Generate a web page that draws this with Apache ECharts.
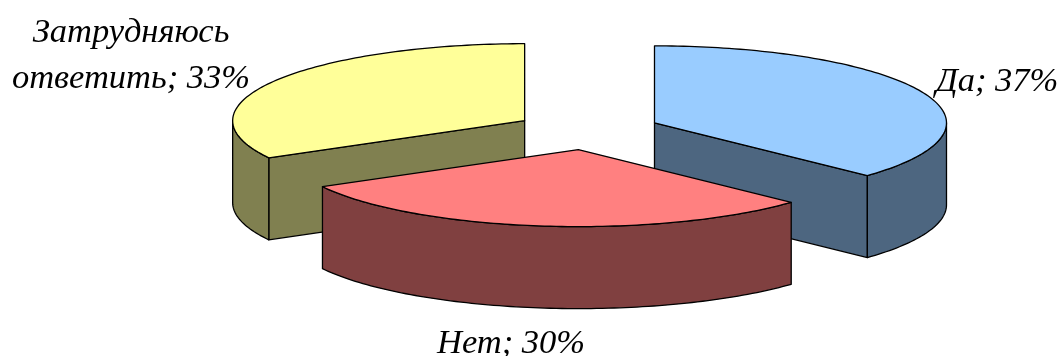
<!DOCTYPE html>
<html>
<head>
<meta charset="utf-8">
<style>
  html, body { margin: 0; padding: 0; background: #fff; }
  #chart { width: 1064px; height: 356px; }
</style>
<script src="https://cdn.jsdelivr.net/npm/echarts@6/dist/echarts.min.js"></script>
</head>
<body>
<div id="chart"></div>
<script>
// Survey answers, listed clockwise from twelve o'clock
const answers = ['Да', 'Нет', 'Затрудняюсь\nответить'];
const shares = [37, 30, 33];
const topColors = ['#99CCFF', '#FF8080', '#FFFF99'];
const wallColors = ['#4D6680', '#804040', '#808050'];

// Where each label sits, in page pixels
const labelX = [997, 511, 131];
const labelY = [82, 344, 56];

// Shape of the tilted, exploded pie
const pie = { cx: 587.5, cy: 130.5, rx: 292, ry: 77, depth: 82, explode: 0.25 };
const paintOrder = [2, 0, 1];
const total = shares.reduce((a, b) => a + b, 0);

// Angle is measured clockwise from twelve o'clock, in radians
const sliceAngles = [];
shares.reduce((start, v) => {
  const end = start + v / total * Math.PI * 2;
  sliceAngles.push([start, end]);
  return end;
}, 0);

function project(apex, angle, drop) {
  return [apex[0] + Math.sin(angle) * pie.rx,
          apex[1] - Math.cos(angle) * pie.ry + drop];
}

function arcPoints(apex, from, to, drop) {
  const pts = [];
  const steps = Math.max(2, Math.ceil(Math.abs(to - from) / 0.02));
  for (let i = 0; i <= steps; i++) {
    pts.push(project(apex, from + (to - from) * i / steps, drop));
  }
  return pts;
}

function face(points, fill) {
  return {
    type: 'polygon',
    shape: { points },
    style: { fill, stroke: '#000', lineWidth: 1.3, lineJoin: 'round' }
  };
}

function renderSlice(params, api) {
  const i = api.value(0);
  const [a0, a1] = sliceAngles[i];
  const mid = (a0 + a1) / 2;
  const apex = [pie.cx + Math.sin(mid) * pie.rx * pie.explode,
                pie.cy - Math.cos(mid) * pie.ry * pie.explode];
  const below = [apex[0], apex[1] + pie.depth];
  const children = [];

  // Radial walls turned towards the viewer
  [a0, a1].forEach(a => {
    const faceOpen = a === a1 ? Math.sin(a) > 0 : Math.sin(a) < 0;
    if (faceOpen) {
      const rim = project(apex, a, 0);
      children.push(face([apex, rim, project(apex, a, pie.depth), below], wallColors[i]));
    }
  });

  // Outer wall: the part of the rim on the near half of the ellipse
  const nearFrom = Math.max(a0, Math.PI / 2);
  const nearTo = Math.min(a1, Math.PI * 1.5);
  if (nearFrom < nearTo) {
    const top = arcPoints(apex, nearFrom, nearTo, 0);
    const bottom = arcPoints(apex, nearTo, nearFrom, pie.depth);
    children.push(face(top.concat(bottom), wallColors[i]));
  }

  // Top surface
  children.push(face([apex].concat(arcPoints(apex, a0, a1, 0)), topColors[i]));

  // Label
  children.push({
    type: 'text',
    style: {
      text: answers[i] + '; ' + shares[i] + '%',
      x: labelX[i],
      y: labelY[i],
      align: 'center',
      verticalAlign: 'middle',
      fill: '#000',
      font: 'italic 34.5px "Liberation Serif", "Times New Roman", serif',
      lineHeight: 46
    },
    z2: 10
  });

  return { type: 'group', children };
}

const chart = echarts.init(document.getElementById('chart'), null, { renderer: 'canvas' });
chart.setOption({
  backgroundColor: '#fff',
  animation: false,
  series: [{
    type: 'custom',
    coordinateSystem: 'none',
    renderItem: renderSlice,
    data: paintOrder.map(i => [i, shares[i]]),
    silent: true
  }]
});
</script>
</body>
</html>
